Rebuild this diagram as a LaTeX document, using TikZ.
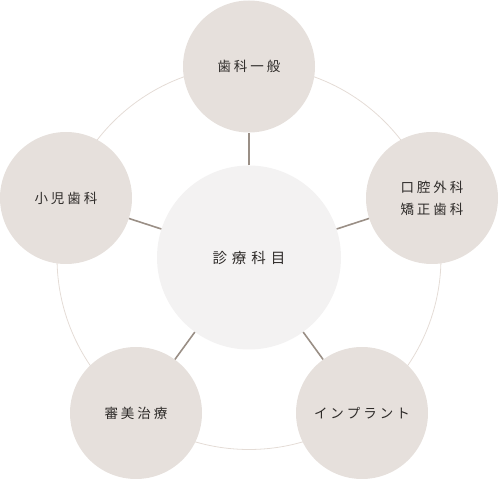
\documentclass[tikz,border=0pt]{standalone}
\usepackage{fontspec}
\newfontfamily\cjk{Noto Sans CJK JP}
\definecolor{outerfill}{HTML}{E6E0DC}
\definecolor{innerfill}{HTML}{F3F2F2}
\definecolor{ringcol}{HTML}{E4DCD6}
\definecolor{spokecol}{HTML}{9A8F86}
\definecolor{txt}{HTML}{2E2B29}
\tikzset{
  outerc/.style={circle, fill=outerfill, minimum size=132pt, inner sep=0pt, text=txt, font=\cjk\fontsize{13.5}{22}\selectfont, align=center},
  innerc/.style={circle, fill=innerfill, minimum size=184pt, inner sep=0pt, text=txt, font=\cjk\fontsize{14.5}{18}\selectfont},
  spoke/.style={draw=spokecol, line width=1.6pt},
  ring/.style={draw=ringcol, line width=0.8pt}
}
\begin{document}
\begin{tikzpicture}[x=1pt,y=-1pt]
\useasboundingbox (0,0) rectangle (499,481);
\draw[ring] (249,257.5) circle[radius=192];
\node[innerc] (c) at (249,257.5) {診\kern5pt 療\kern5pt 科\kern5pt 目};
\node[outerc] (t) at (249,66.5) {歯\kern3pt 科\kern3pt 一\kern3pt 般};
\node[outerc] (r) at (432,198) {口\kern3pt 腔\kern3pt 外\kern3pt 科\\矯\kern3pt 正\kern3pt 歯\kern3pt 科};
\node[outerc] (br) at (362,413) {イ\kern3pt ン\kern3pt プ\kern3pt ラ\kern3pt ン\kern3pt ト};
\node[outerc] (bl) at (136,413) {審\kern3pt 美\kern3pt 治\kern3pt 療};
\node[outerc] (l) at (66,198) {小\kern3pt 児\kern3pt 歯\kern3pt 科};
\foreach \n in {t,r,br,bl,l} \draw[spoke] (c) -- (\n);
\end{tikzpicture}
\end{document}
